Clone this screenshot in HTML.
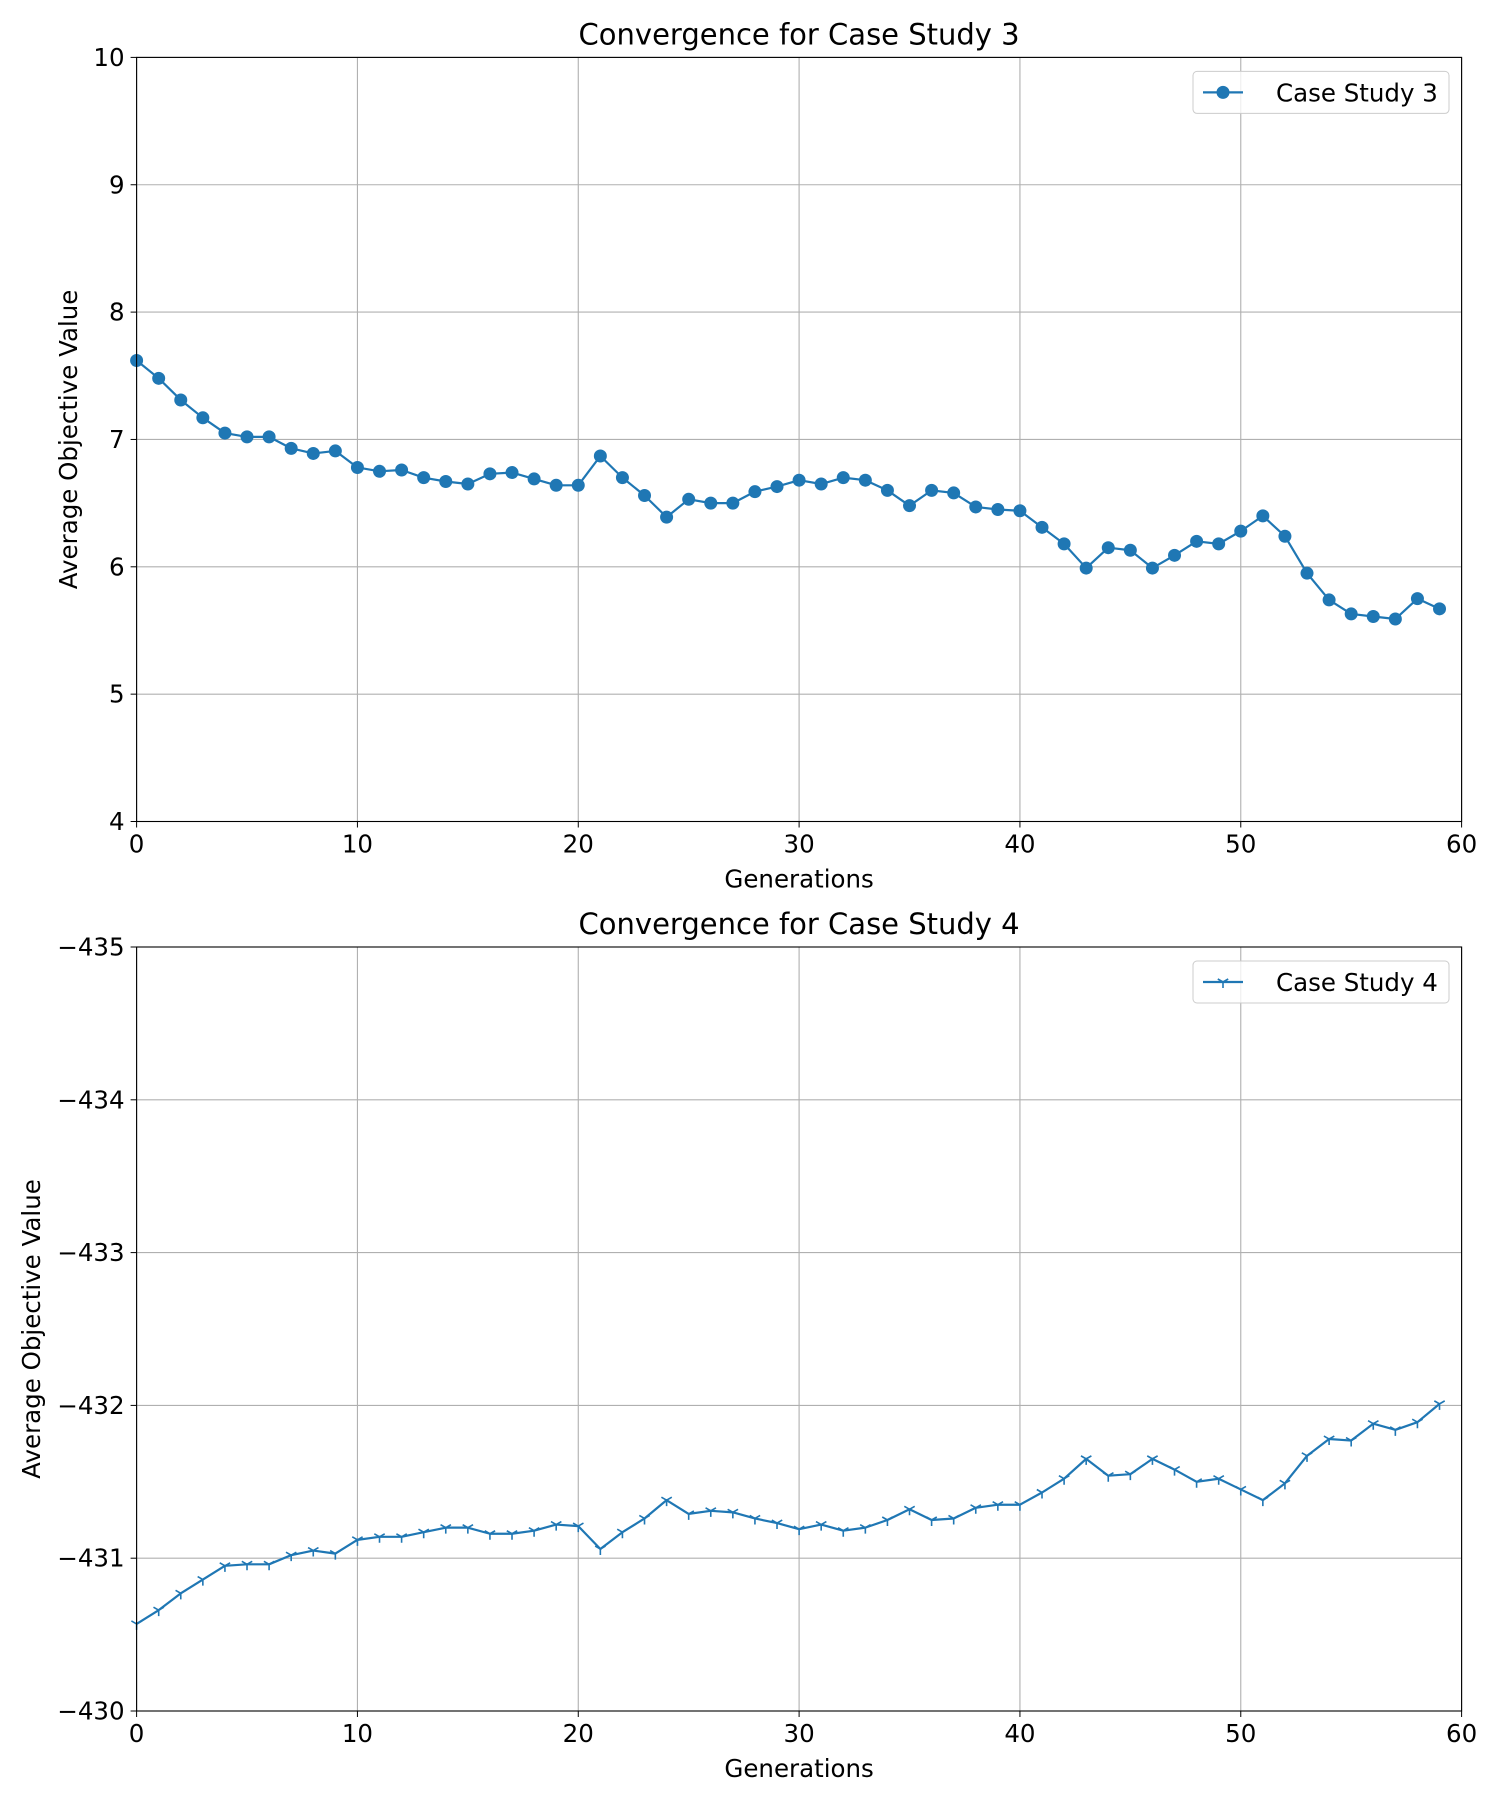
<!DOCTYPE html>
<html><head><meta charset="utf-8"><style>
html,body{margin:0;padding:0;background:#fff}
svg{display:block;font-family:"DejaVu Sans","Liberation Sans",sans-serif}
</style></head><body>
<svg id="fig" width="1500" height="1800" viewBox="0 0 1500 1800" xmlns="http://www.w3.org/2000/svg"></svg>
<script>
const generations = Array.from({length:60},(_,i)=>i);
const case3Values = [7.62,7.48,7.31,7.17,7.05,7.02,7.02,6.93,6.89,6.91,6.78,6.75,6.76,6.70,6.67,6.65,6.73,6.74,6.69,6.64,6.64,6.87,6.70,6.56,6.39,6.53,6.50,6.50,6.59,6.63,6.68,6.65,6.70,6.68,6.60,6.48,6.60,6.58,6.47,6.45,6.44,6.31,6.18,5.99,6.15,6.13,5.99,6.09,6.20,6.18,6.28,6.40,6.24,5.95,5.74,5.63,5.61,5.59,5.75,5.67];
const case4Values = [-430.57,-430.66,-430.77,-430.86,-430.95,-430.96,-430.96,-431.02,-431.05,-431.03,-431.12,-431.14,-431.14,-431.17,-431.20,-431.20,-431.16,-431.16,-431.18,-431.22,-431.21,-431.06,-431.17,-431.26,-431.38,-431.29,-431.31,-431.30,-431.26,-431.23,-431.19,-431.22,-431.18,-431.20,-431.25,-431.32,-431.25,-431.26,-431.33,-431.35,-431.35,-431.43,-431.52,-431.65,-431.54,-431.55,-431.65,-431.58,-431.50,-431.52,-431.45,-431.38,-431.49,-431.67,-431.78,-431.77,-431.88,-431.84,-431.89,-432.01];
const xTicks = [0,10,20,30,40,50,60];
const yTicks3 = [4,5,6,7,8,9,10];
const yTicks4 = [-435,-434,-433,-432,-431,-430];
const ytickLabels4 = ["\u2212435","\u2212434","\u2212433","\u2212432","\u2212431","\u2212430"];

const NS="http://www.w3.org/2000/svg";
const svg=document.getElementById('fig');
const C='#1f77b4';
const FS=24.5;
function mk(tag,attrs,parent){const e=document.createElementNS(NS,tag);for(const k in attrs)e.setAttribute(k,attrs[k]);(parent||svg).appendChild(e);return e;}

function panel(o){
  const L=136.6,R=1461.6,T=o.top,B=o.bottom;
  const g=mk('g',{});
  
  
  const xs=v=>L+(v-0)/60*(R-L);
  const yScale=v=>T+(v-o.yTop)/(o.yBot-o.yTop)*(B-T);
  xTicks.forEach(t=>{const l=mk('line',{x1:xs(t),x2:xs(t),y1:T,y2:B,stroke:'#b0b0b0','stroke-width':1.1},g);
    });
  o.yTicks.forEach(t=>{const l=mk('line',{x1:L,x2:R,y1:yScale(t),y2:yScale(t),stroke:'#b0b0b0','stroke-width':1.1},g);
    });
  xTicks.forEach(t=>{mk('line',{x1:xs(t),x2:xs(t),y1:B,y2:B+6,stroke:'#000','stroke-width':1},g);
    const tx=mk('text',{x:xs(t),y:B+31,'text-anchor':'middle','font-size':FS},g);tx.textContent=t;
    });
  o.yTicks.forEach((t,i)=>{mk('line',{x1:L-6,x2:L,y1:yScale(t),y2:yScale(t),stroke:'#000','stroke-width':1},g);
    const tx=mk('text',{x:L-12,y:yScale(t)+8.5,'text-anchor':'end','font-size':FS},g);tx.textContent=o.labels[i];
    });
  const pts=generations.map((x,i)=>xs(x).toFixed(2)+','+yScale(o.values[i]).toFixed(2)).join(' ');
  const pl=mk('polyline',{points:pts,fill:'none',stroke:C,'stroke-width':2.2,'stroke-linejoin':'round'},g);
  
  generations.forEach((x,i)=>{const cx=xs(x),cy=yScale(o.values[i]);
    if(o.marker==='circle'){const m=mk('circle',{cx:cx,cy:cy,r:6.5,fill:C},g);
      }
    else{const m=mk('path',{d:`M${cx},${cy}v6M${cx},${cy}l-5.2,-3M${cx},${cy}l5.2,-3`,stroke:C,'stroke-width':1.6,fill:'none'},g);
      }
  });
  mk('rect',{x:L,y:T,width:R-L,height:B-T,fill:'none',stroke:'#000','stroke-width':1.1},g);
  const ti=mk('text',{x:(L+R)/2,y:T-13,'text-anchor':'middle','font-size':29},g);ti.textContent=o.title;
  
  const xl=mk('text',{x:(L+R)/2,y:B+66,'text-anchor':'middle','font-size':FS},g);xl.textContent='Generations';
  
  const yl=mk('text',{x:o.ylx,y:(T+B)/2,'text-anchor':'middle','font-size':FS,transform:`rotate(-90 ${o.ylx} ${(T+B)/2})`},g);yl.textContent='Average Objective Value';
  
  const lg=mk('g',{},g);
  
  const ly=T+14;
  mk('rect',{x:1193,y:ly,width:256,height:42,rx:4,fill:'#fff','fill-opacity':0.8,stroke:'#ccc'},lg);
  mk('line',{x1:1203,x2:1243,y1:ly+21,y2:ly+21,stroke:C,'stroke-width':2.2},lg);
  if(o.marker==='circle')mk('circle',{cx:1223,cy:ly+21,r:6.5,fill:C},lg);
  else mk('path',{d:`M1223,${ly+21}v6M1223,${ly+21}l-5.2,-3M1223,${ly+21}l5.2,-3`,stroke:C,'stroke-width':1.6},lg);
  const lt=mk('text',{x:1276,y:ly+30,'font-size':FS},lg);lt.textContent=o.legend;
  
}
panel({name:'case-study-3-chart',top:57.4,bottom:821.5,yTop:10,yBot:4,yTicks:yTicks3,labels:yTicks3.map(String),values:case3Values,marker:'circle',title:'Convergence for Case Study 3',legend:'Case Study 3',ylx:77});
panel({name:'case-study-4-chart',top:947,bottom:1711,yTop:-435,yBot:-430,yTicks:yTicks4,labels:ytickLabels4,values:case4Values,marker:'tri',title:'Convergence for Case Study 4',legend:'Case Study 4',ylx:40});
</script>
</body></html>
